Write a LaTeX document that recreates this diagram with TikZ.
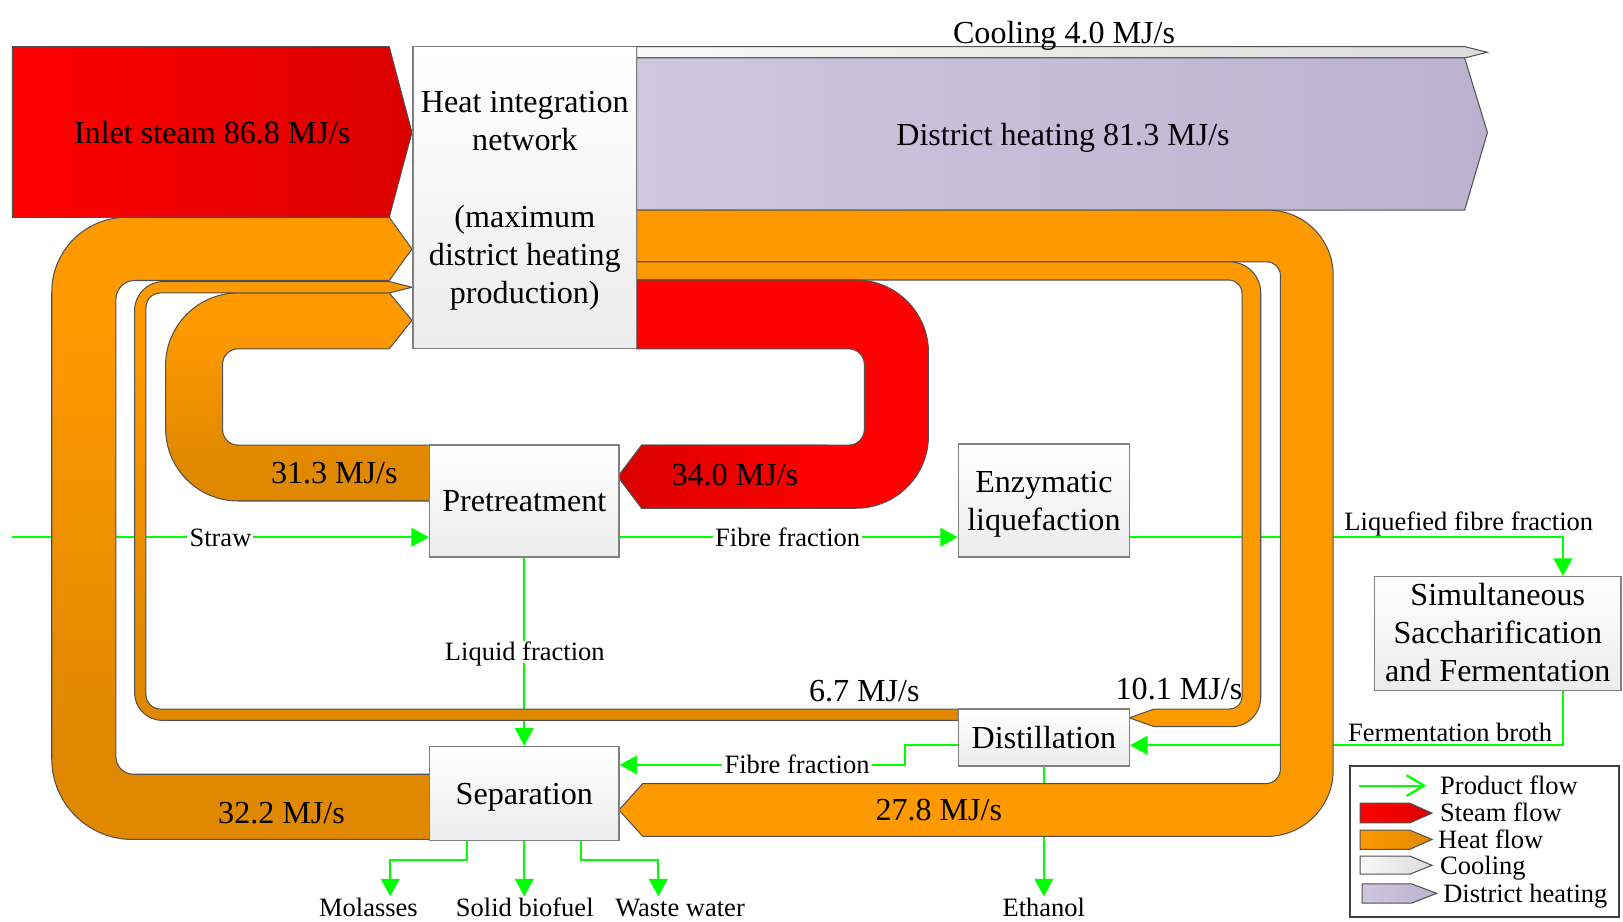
\documentclass[tikz,border=0pt]{standalone}
\usepackage{fontspec}
\setmainfont{Liberation Serif}
\usetikzlibrary{arrows.meta,calc}
\definecolor{heatL}{RGB}{255,153,0}
\definecolor{heatD}{RGB}{224,136,0}
\definecolor{steamL}{RGB}{255,0,0}
\definecolor{steamD}{RGB}{218,0,0}
\definecolor{dhL}{RGB}{206,199,223}
\definecolor{dhD}{RGB}{188,178,208}
\definecolor{coolL}{RGB}{248,248,248}
\definecolor{coolD}{RGB}{220,220,220}
\definecolor{prodg}{RGB}{0,255,0}
\definecolor{edgec}{RGB}{80,80,80}
\definecolor{boxedge}{RGB}{128,128,128}
\definecolor{boxbot}{RGB}{236,236,236}
\definecolor{legedge}{RGB}{64,64,64}
\pgfdeclareverticalshading{heatvert}{100bp}{color(0bp)=(heatD); color(33bp)=(heatD); color(67bp)=(heatL); color(100bp)=(heatL)}
\pgfdeclarelayer{bg}
\pgfsetlayers{bg,main}
\tikzset{
  bigf/.style={font=\fontsize{15.5}{18.5}\selectfont},
  smallf/.style={font=\fontsize{12.8}{15}\selectfont},
  band/.style={draw=edgec, line width=0.5pt},
  procbox/.style={draw=boxedge, line width=0.6pt, top color=white, bottom color=boxbot, bigf, inner sep=0pt},
  onelinebox/.style={procbox, text height=10.3pt, text depth=0pt},
  boxtext/.style={bigf, align=center, inner sep=0pt},
  prod/.style={draw=prodg, line width=1.1pt, -{Triangle[length=8.5pt,width=9pt]}},
  flowlabel/.style={smallf, fill=white, inner sep=1pt, text height=8.5pt, text depth=0pt},
  biglabel/.style={bigf, inner sep=0pt, text height=10.3pt, text depth=0pt},
  outlabel/.style={smallf, inner sep=0pt, text height=8.5pt, text depth=0pt},
  legtext/.style={smallf, inner sep=0pt, anchor=west, text height=8.5pt, text depth=0pt},
}
\begin{document}
\begin{tikzpicture}[x=0.5pt, y=-0.5pt]
\useasboundingbox (0,0) rectangle (1568,890);

% process boxes
\node[procbox, minimum width=108pt, minimum height=146pt] (heat) at (507,191) {};
\node[boxtext] (heattext) at (507,194)
  {Heat integration\\network\\[18.5pt](maximum\\district heating\\production)};
\node[onelinebox, minimum width=91.5pt, minimum height=54pt] (pre) at (506.5,484) {Pretreatment};
\node[procbox, minimum width=82.5pt, minimum height=54.5pt] (enz) at (1008.5,483.5) {};
\node[boxtext] (enztext) at (1008.5,487.5) {Enzymatic\\liquefaction};
\node[onelinebox, minimum width=82.5pt, minimum height=27.5pt] (dist) at (1008.5,712.5) {Distillation};
\node[onelinebox, minimum width=91.5pt, minimum height=45.5pt] (sep) at (506.5,766.5) {Separation};
\node[procbox, minimum width=119pt, minimum height=55pt] (ssf) at (1447,612) {};
\node[boxtext] (ssftext) at (1447,611) {Simultaneous\\Saccharification\\and Fermentation};

% named free ends
\coordinate (strawin) at (12,519);
\coordinate (yb) at (0,720);
\coordinate (ysep) at (0,739);
\coordinate (molT) at (377,866);
\coordinate (solT) at (506.5,866);
\coordinate (wasT) at (636,866);
\coordinate (ethT) at (1008.5,866);

\begin{pgfonlayer}{bg}
\fill[white] (0,0) rectangle (1568,890);
% product flows
\draw[prod] (strawin) -- (strawin -| pre.west);
\draw[prod] (strawin -| pre.east) -- (strawin -| enz.west);
\draw[prod] (strawin -| enz.east) -| ([xshift=31.5pt]ssf.north);
\draw[prod] ([xshift=31.5pt]ssf.south) |- (dist.east |- yb);
\draw[prod] (dist.west |- yb) -- ++(-51,0) |- (sep.east |- ysep);
\draw[prod] (pre.south) -- (sep.north);
\draw[prod] (dist.south) -- (ethT);
\draw[prod] ([xshift=-27.75pt]sep.south) -- ++(0,18) -| (molT);
\draw[prod] (sep.south) -- (solT);
\draw[prod] ([xshift=27.25pt]sep.south) -- ++(0,18) -| (wasT);

% inlet steam, cooling, district heating
\path[band, left color=steamL, right color=steamD] (12,45) -- (376,45) -- (398,128) -- (376,210) -- (12,210) -- cycle;
\path[band, left color=coolL, right color=coolD] (615,45) -- (1415,45) -- (1437,50.5) -- (1415,56) -- (615,56) -- cycle;
\path[band, left color=dhL, right color=dhD] (615,56) -- (1415,56) -- (1437,128) -- (1415,203) -- (615,203) -- cycle;

% 27.8 MJ/s band
\path[band, fill=heatL] (615,203) -- (1225,203) .. controls (1259.8,203) and (1288,231.2) .. (1288,266) -- (1288,744) .. controls (1288,779.3) and (1259.3,808) .. (1224,808) -- (621,808) -- (598,782.5) -- (621,757) -- (1223,757) .. controls (1230.7,757) and (1237,750.7) .. (1237,743) -- (1237,266) .. controls (1237,258.8) and (1231.2,253) .. (1224,253) -- (615,253) -- cycle;

% 10.1 MJ/s band
\path[band, fill=heatL] (615,253) -- (1188,253) .. controls (1204.6,253) and (1218,266.4) .. (1218,283) -- (1218,674) .. controls (1218,689.5) and (1205.5,702) .. (1190,702) -- (1115,702) -- (1091,693.5) -- (1115,685) -- (1188,685) .. controls (1194.6,685) and (1200,679.6) .. (1200,673) -- (1200,283.5) .. controls (1200,276.3) and (1194.2,270.5) .. (1187,270.5) -- (615,270.5) -- cycle;

% 34.0 MJ/s steam band
\path[band, fill=steamL] (615,270.5) -- (827,270.5) .. controls (865.6,270.5) and (897,301.9) .. (897,340.5) -- (897,421) .. controls (897,459.6) and (865.6,491) .. (827,491) -- (620,491) -- (597,460.5) -- (620,430) -- (820,430) .. controls (828.3,430) and (835,423.3) .. (835,415) -- (835,352) .. controls (835,343.7) and (828.3,337) .. (820,337) -- (615,337) -- cycle;
\path[left color=steamD, right color=steamL] (620,491) -- (597,460.5) -- (620,430) -- (800,430) -- (800,491) -- cycle;
\draw[draw=edgec, line width=0.5pt] (800,491) -- (620,491) -- (597,460.5) -- (620,430) -- (800,430);

% 31.3 MJ/s band
\path[band, shade, shading=heatvert] (398,309.5) -- (376,283) -- (230,283) .. controls (191.4,283) and (160,314.4) .. (160,353) -- (160,414) .. controls (160,452.6) and (191.4,484) .. (230,484) -- (415,484) -- (415,430) -- (230,430) .. controls (221.7,430) and (215,423.3) .. (215,415) -- (215,352) .. controls (215,343.7) and (221.7,337) .. (230,337) -- (376,337) -- cycle;

% 32.2 MJ/s band
\path[band, shade, shading=heatvert] (398,240.5) -- (376,210) -- (122,210) .. controls (82.3,210) and (50,242.3) .. (50,282) -- (50,733) .. controls (50,776.1) and (84.9,811) .. (128,811) -- (415,811) -- (415,748) -- (129,748) .. controls (119.6,748) and (112,740.4) .. (112,731) -- (112,289) .. controls (112,279.1) and (120.1,271) .. (130,271) -- (376,271) -- cycle;

% 6.7 MJ/s band
\path[band, shade, shading=heatvert] (398,277.5) -- (376,272) -- (158,272) .. controls (142.5,272) and (130,284.5) .. (130,300) -- (130,669) .. controls (130,684.1) and (142.1,696) .. (157,696) -- (926,696) -- (926,685) -- (155,685) .. controls (147.3,685) and (141,678.7) .. (141,671) -- (141,297) .. controls (141,289.3) and (147.3,283) .. (155,283) -- (376,283) -- cycle;
\end{pgfonlayer}

% flow labels on product lines
\node[flowlabel] (lstraw) at (213,519) {Straw};
\node[flowlabel] (lfib1) at (761,519) {Fibre fraction};
\node[flowlabel] (lliq) at (507,630) {Liquid fraction};
\node[flowlabel] (lfib2) at (770,739) {Fibre fraction};
\node[outlabel] (lliqf) at (1419,504) {Liquefied fibre fraction};
\node[outlabel] (lbroth) at (1401,708) {Fermentation broth};
\node[outlabel] (tmol) at (356,877) {Molasses};
\node[outlabel] (tsol) at (507,877) {Solid biofuel};
\node[outlabel] (twas) at (657,877) {Waste water};
\node[outlabel] (teth) at (1008.5,877) {Ethanol};

% band labels
\node[biglabel] (linlet) at (205,128) {Inlet steam 86.8 MJ/s};
\node[biglabel] (lcool) at (1028,32) {Cooling 4.0 MJ/s};
\node[biglabel] (ldh) at (1027,130) {District heating 81.3 MJ/s};
\node[biglabel] (l313) at (323,457) {31.3 MJ/s};
\node[biglabel] (l340) at (710,459) {34.0 MJ/s};
\node[biglabel] (l67) at (835,667) {6.7 MJ/s};
\node[biglabel] (l101) at (1139,665) {10.1 MJ/s};
\node[biglabel] (l322) at (272,785) {32.2 MJ/s};
\node[biglabel] (l278) at (907,782) {27.8 MJ/s};

% legend
\node[draw=legedge, line width=1.2pt, minimum width=130pt, minimum height=73pt, inner sep=0pt] (legend) at (1434,813) {};
\coordinate (lp1) at (1313,759);
\coordinate (lp2) at (1378,759);
\draw[draw=prodg, line width=1.1pt, -{Straight Barb[length=8.5pt,width=10pt]}] (lp1) -- (lp2);
\path[band, left color=steamL, right color=steamD] (1314,776) -- (1362,776) -- (1383.5,785.5) -- (1362,795) -- (1314,795) -- cycle;
\path[band, left color=heatL, right color=heatD] (1314,802) -- (1362,802) -- (1383.5,811) -- (1362,820.5) -- (1314,820.5) -- cycle;
\path[band, left color=coolL, right color=coolD] (1314,827) -- (1362,827) -- (1383.5,836) -- (1362,844.5) -- (1314,844.5) -- cycle;
\path[band, left color=dhL, right color=dhD] (1316,854) -- (1364,854) -- (1388,863) -- (1364,872.5) -- (1316,872.5) -- cycle;
\node[legtext] (lg1) at (1391,759) {Product flow};
\node[legtext] (lg2) at (1391,785) {Steam flow};
\node[legtext] (lg3) at (1389,811) {Heat flow};
\node[legtext] (lg4) at (1391,836) {Cooling};
\node[legtext] (lg5) at (1394,863) {District heating};
\end{tikzpicture}
\end{document}
